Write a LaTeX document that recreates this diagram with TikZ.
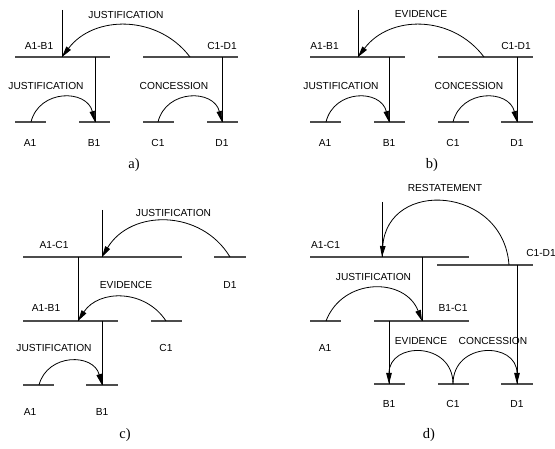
\documentclass[tikz,border=0pt]{standalone}
\usepackage{fontspec}
\setmainfont{Liberation Sans}
\newfontfamily\capfont{Liberation Serif}
\usetikzlibrary{arrows.meta}
\begin{document}
\begin{tikzpicture}[x=1pt,y=1pt,
  hline/.style={line width=1.1pt, draw=black!70},
  vline/.style={line width=0.8pt},
  rel/.style={line width=0.8pt, -{Triangle[length=11pt,width=5.5pt]}},
  lab/.style={font=\fontsize{10.2}{12}\selectfont, inner sep=0pt},
  captext/.style={font=\capfont\fontsize{14.5}{16}\selectfont, inner sep=0pt}]
\useasboundingbox (0,0) rectangle (555,449);

% ---------------- panel a ----------------
\coordinate (a-top) at (62,439);
\coordinate (a-AB-l) at (15,392); \coordinate (a-AB-r) at (110,392);
\coordinate (a-AB-n) at (62,392);  \coordinate (a-AB-v) at (95,392);
\coordinate (a-CD-l) at (143,392); \coordinate (a-CD-r) at (238,392);
\coordinate (a-CD-s) at (190,392); \coordinate (a-CD-v) at (222,392);
\coordinate (a-A1-l) at (15,327);  \coordinate (a-A1-r) at (46,327);  \coordinate (a-A1-s) at (31,327);
\coordinate (a-B1-l) at (79,327);  \coordinate (a-B1-r) at (110,327); \coordinate (a-B1-n) at (95,327);
\coordinate (a-C1-l) at (143,327); \coordinate (a-C1-r) at (174,327); \coordinate (a-C1-s) at (158,327);
\coordinate (a-D1-l) at (207,327); \coordinate (a-D1-r) at (238,327); \coordinate (a-D1-n) at (222,327);
\foreach \s in {AB,CD,A1,B1,C1,D1} \draw[hline] (a-\s-l) -- (a-\s-r);
\draw[vline] (a-top) -- (a-AB-n);
\draw[vline] (a-AB-v) -- (a-B1-n);
\draw[vline] (a-CD-v) -- (a-D1-n);
\draw[rel] (a-CD-s) to[out=127,in=53,distance=53] (a-AB-n);
\draw[rel] (a-A1-s) to[out=76,in=104,distance=34] (a-B1-n);
\draw[rel] (a-C1-s) to[out=76,in=104,distance=34] (a-D1-n);
\node[lab] (a-t1) at (126,434) {JUSTIFICATION};
\node[lab] (a-t2) at (39,403) {A1-B1};
\node[lab] (a-t3) at (222,403) {C1-D1};
\node[lab] (a-t4) at (46,363) {JUSTIFICATION};
\node[lab] (a-t5) at (174,363) {CONCESSION};
\node[lab] (a-t6) at (30,306) {A1};
\node[lab] (a-t7) at (94,306) {B1};
\node[lab] (a-t8) at (158,306) {C1};
\node[lab] (a-t9) at (222,306) {D1};
\node[captext] (a-cap) at (134,284) {a)};

% ---------------- panel b ----------------
\coordinate (b-top) at (358,439);
\coordinate (b-AB-l) at (310,392); \coordinate (b-AB-r) at (405,392);
\coordinate (b-AB-n) at (358,392); \coordinate (b-AB-v) at (389,392);
\coordinate (b-CD-l) at (438,392); \coordinate (b-CD-r) at (533,392);
\coordinate (b-CD-s) at (484,392); \coordinate (b-CD-v) at (517,392);
\coordinate (b-A1-l) at (310,327); \coordinate (b-A1-r) at (341,327); \coordinate (b-A1-s) at (326,327);
\coordinate (b-B1-l) at (374,327); \coordinate (b-B1-r) at (405,327); \coordinate (b-B1-n) at (389,327);
\coordinate (b-C1-l) at (438,327); \coordinate (b-C1-r) at (469,327); \coordinate (b-C1-s) at (453,327);
\coordinate (b-D1-l) at (501,327); \coordinate (b-D1-r) at (533,327); \coordinate (b-D1-n) at (517,327);
\foreach \s in {AB,CD,A1,B1,C1,D1} \draw[hline] (b-\s-l) -- (b-\s-r);
\draw[vline] (b-top) -- (b-AB-n);
\draw[vline] (b-AB-v) -- (b-B1-n);
\draw[vline] (b-CD-v) -- (b-D1-n);
\draw[rel] (b-CD-s) to[out=127,in=53,distance=53] (b-AB-n);
\draw[rel] (b-A1-s) to[out=76,in=104,distance=34] (b-B1-n);
\draw[rel] (b-C1-s) to[out=76,in=104,distance=34] (b-D1-n);
\node[lab] (b-t1) at (421,435) {EVIDENCE};
\node[lab] (b-t2) at (324.5,403) {A1-B1};
\node[lab] (b-t3) at (516,403) {C1-D1};
\node[lab] (b-t4) at (341,363) {JUSTIFICATION};
\node[lab] (b-t5) at (469,363) {CONCESSION};
\node[lab] (b-t6) at (325,306) {A1};
\node[lab] (b-t7) at (389,306) {B1};
\node[lab] (b-t8) at (453,306) {C1};
\node[lab] (b-t9) at (517,306) {D1};
\node[captext] (b-cap) at (432,284) {b)};

% ---------------- panel c ----------------
\coordinate (c-top) at (102,239);
\coordinate (c-AC-l) at (23,192);  \coordinate (c-AC-r) at (182,192);
\coordinate (c-AC-n) at (102,192); \coordinate (c-AC-v) at (78,192);
\coordinate (c-D1-l) at (214,192); \coordinate (c-D1-r) at (246,192); \coordinate (c-D1-s) at (230,192);
\coordinate (c-AB-l) at (23,128);  \coordinate (c-AB-r) at (118,128);
\coordinate (c-AB-n) at (78,128);  \coordinate (c-AB-v) at (102,128);
\coordinate (c-C1-l) at (151,128); \coordinate (c-C1-r) at (182,128); \coordinate (c-C1-s) at (166,128);
\coordinate (c-A1-l) at (23,64);   \coordinate (c-A1-r) at (54,64);   \coordinate (c-A1-s) at (39,64);
\coordinate (c-B1-l) at (86,64);   \coordinate (c-B1-r) at (118,64);  \coordinate (c-B1-n) at (102,64);
\foreach \s in {AC,D1,AB,C1,A1,B1} \draw[hline] (c-\s-l) -- (c-\s-r);
\draw[vline] (c-top) -- (c-AC-n);
\draw[vline] (c-AC-v) -- (c-AB-n);
\draw[vline] (c-AB-v) -- (c-B1-n);
\draw[rel] (c-D1-s) to[out=121,in=59,distance=56] (c-AC-n);
\draw[rel] (c-C1-s) to[out=123,in=57,distance=38] (c-AB-n);
\draw[rel] (c-A1-s) to[out=75,in=105,distance=33] (c-B1-n);
\node[lab] (c-t1) at (173.5,236.3) {JUSTIFICATION};
\node[lab] (c-t2) at (54,204) {A1-C1};
\node[lab] (c-t3) at (230,164) {D1};
\node[lab] (c-t4) at (126,164) {EVIDENCE};
\node[lab] (c-t5) at (46,141) {A1-B1};
\node[lab] (c-t6) at (166,101) {C1};
\node[lab] (c-t7) at (54,101) {JUSTIFICATION};
\node[lab] (c-t8) at (30,37) {A1};
\node[lab] (c-t9) at (102,37) {B1};
\node[captext] (c-cap) at (125,13.5) {c)};

% ---------------- panel d ----------------
\coordinate (d-top) at (382,247);
\coordinate (d-AC-l) at (310,192); \coordinate (d-AC-r) at (469,192);
\coordinate (d-AC-n) at (382,192); \coordinate (d-AC-v) at (422,192);
\coordinate (d-CD-l) at (437,184); \coordinate (d-CD-r) at (533,184);
\coordinate (d-CD-s) at (509,184); \coordinate (d-CD-v) at (517,184);
\coordinate (d-A1-l) at (310,128); \coordinate (d-A1-r) at (341,128); \coordinate (d-A1-s) at (326,128);
\coordinate (d-BC-l) at (374,128); \coordinate (d-BC-r) at (469,128);
\coordinate (d-BC-n) at (422,128); \coordinate (d-BC-v) at (389,128);
\coordinate (d-B1-l) at (374,65);  \coordinate (d-B1-r) at (405,65);  \coordinate (d-B1-n) at (389,65);
\coordinate (d-C1-l) at (438,65);  \coordinate (d-C1-r) at (469,65);  \coordinate (d-C1-s) at (453,65);
\coordinate (d-D1-l) at (501,65);  \coordinate (d-D1-r) at (533,65);  \coordinate (d-D1-n) at (517,65);
\foreach \s in {AC,CD,A1,BC,B1,C1,D1} \draw[hline] (d-\s-l) -- (d-\s-r);
\draw[vline] (d-top) -- (d-AC-n);
\draw[vline] (d-AC-v) -- (d-BC-n);
\draw[vline] (d-BC-v) -- (d-B1-n);
\draw[vline] (d-CD-v) -- (d-D1-n);
\draw[rel] (d-CD-s) to[out=94,in=86,distance=79] (d-AC-n);
\draw[rel] (d-A1-s) to[out=69,in=111,distance=47] (d-BC-n);
\draw[rel] (d-C1-s) to[out=90,in=90,distance=42.7] (d-B1-n);
\draw[rel] (d-C1-s) to[out=90,in=90,distance=42.7] (d-D1-n);
\node[lab] (d-t1) at (445,261) {RESTATEMENT};
\node[lab] (d-t2) at (325.5,204) {A1-C1};
\node[lab] (d-t3) at (541,196) {C1-D1};
\node[lab] (d-t4) at (373.5,172.3) {JUSTIFICATION};
\node[lab] (d-t5) at (453,141) {B1-C1};
\node[lab] (d-t6) at (325,101) {A1};
\node[lab] (d-t7) at (421,108) {EVIDENCE};
\node[lab] (d-t8) at (493,108) {CONCESSION};
\node[lab] (d-t9) at (389,45) {B1};
\node[lab] (d-t10) at (453,45) {C1};
\node[lab] (d-t11) at (517,45) {D1};
\node[captext] (d-cap) at (429,13.5) {d)};
\end{tikzpicture}
\end{document}
